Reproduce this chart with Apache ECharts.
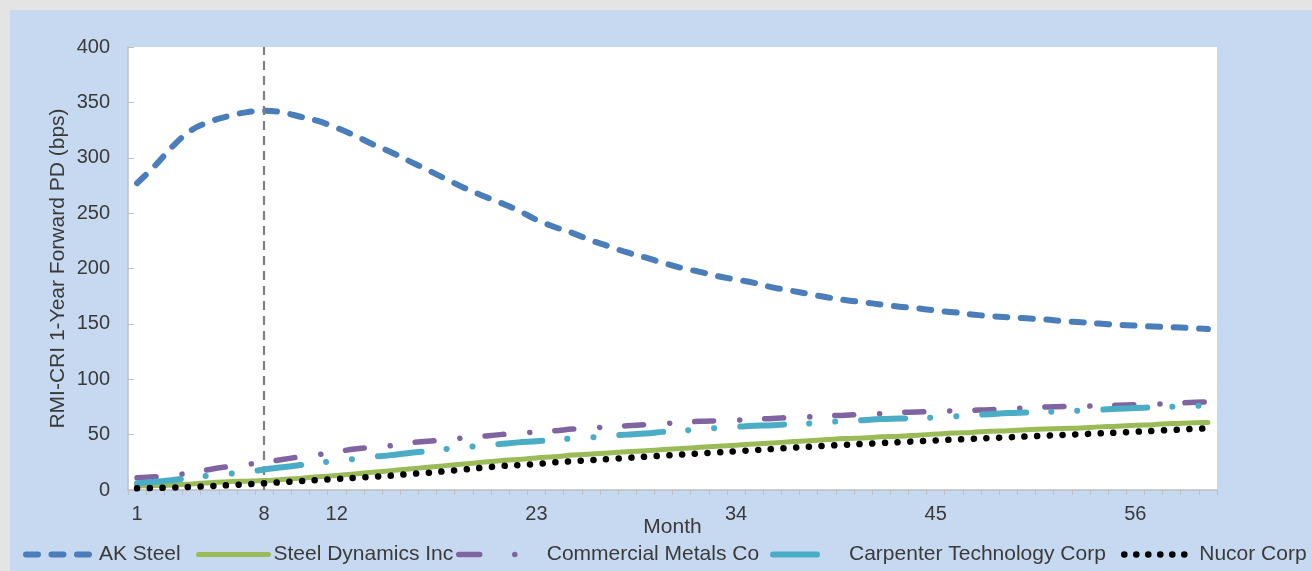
<!DOCTYPE html>
<html><head><meta charset="utf-8">
<script src="https://cdn.jsdelivr.net/npm/echarts@6/dist/echarts.min.js"></script>
<style>
html,body{margin:0;padding:0;background:#e4e4e4;width:1312px;height:571px;overflow:hidden}
#c{position:absolute;left:10px;top:10px;width:1302px;height:561px;background:#c6d9f1}
</style></head><body><div id="c"></div>
<script>
const months = [1,2,3,4,5,6,7,8,9,10,11,12,13,14,15,16,17,18,19,20,21,22,23,24,25,26,27,28,29,30,31,32,33,34,35,36,37,38,39,40,41,42,43,44,45,46,47,48,49,50,51,52,53,54,55,56,57,58,59,60];
const tickLabels = ['1','8','12','23','34','45','56'];
const markMonth = '8';
const akSteel = [277,293,311,325,332.5,337.5,341,342.5,341,337,333,327,320,312,305,297,289,281,273,266,259.5,252.5,244,237.5,232,225.5,220,214.5,210,205,200.5,197,193,190,187,183,180,177,174,171.5,169.5,167.5,165.5,164,162,160.5,158.5,157,156,155,154,152.5,151.5,150.3,149.2,148.4,147.6,147,146.2,145.3];
const steelDynamics = [3.5,4,4.5,5.5,6.5,7.5,8,8.5,9.5,10.5,12,13,14.5,16,17.5,19,20.5,22,23.5,25,26.5,27.5,29,30,31.5,32.5,33.5,34.5,35.5,36.5,37.5,38.5,39.5,40.5,41.5,42.5,43.5,44.5,45.5,46.5,47,48,48.5,49.5,50.5,51.5,52,53,53.5,54.5,55,55.5,56,57,57.5,58.5,59,60,60.5,61];
const commercialMetals = [11,12,13.5,15.5,18.5,21,23,25,27.5,30,32,34.5,37,38.5,40,42.5,44,45.5,47,48.5,50,51,52.5,53.5,55,56,57,58,59,60,61,62,62.5,63,64,64.5,65.5,66,67,67.5,68.5,69,70,70.5,71,71.5,72,72.5,73.5,74,75,75.3,75.6,76,76.5,77,77.5,78,79,79.5];
const carpenter = [6,7.5,9,11.5,13,14.5,16,18.5,20.5,22.5,24.5,26.5,28,30,31.5,33.5,35,37,38.5,40,41.5,43,44,45.5,46.5,47.5,49,50,51,52.5,53.5,55,56,57,58,58.5,59.5,60,61.5,62,63,64,64.5,65,65.5,66.5,67.5,68.5,69.5,70,70.5,71,71.8,72.5,73.3,74,74.6,75.2,75.8,76.3];
const nucor = [1.5,1.8,2.2,2.8,3.5,4.3,5.2,6,7,8,9,10,11,12,13,14.5,15.5,17,18.5,20,21.5,22.5,23.5,25,26,27,28,29,30,31,32,33,34,35,36,37,38,39,40,40.8,41.6,42.4,43.2,44,44.8,45.5,46.2,46.9,47.6,48.3,49,49.7,50.4,51.1,51.8,52.6,53.4,54.2,55,55.7];
const names = ['AK Steel','Steel Dynamics Inc','Commercial Metals Co','Carpenter Technology Corp','Nucor Corp'];

const FONT = "'Liberation Sans', Arial, sans-serif";
const TXT = '#3a3a3a';
const styles = [
  {color:'#4a7ebb', width:6, type:[12,13.5], cap:'round'},
  {color:'#9bbb59', width:5, type:'solid', cap:'round'},
  {color:'#8064a2', width:5.5, type:[19,26,0.1,25], cap:'round'},
  {color:'#4bacc6', width:6, type:[44,25,0.1,26,0.1,26], cap:'round'},
  {color:'#000000', width:6.5, type:[0.1,12.6], cap:'round'}
];
const legendStyles = [
  {left:13, w:68, type:[12,13.5]},
  {left:186, w:70, type:'solid'},
  {left:446, w:83, type:[21,35,0.1,100]},
  {left:760, w:71, type:[44,100]},
  {left:1111, w:70, type:[0.1,11.9]}
];
const seriesData = [akSteel, steelDynamics, commercialMetals, carpenter, nucor];

const chart = echarts.init(document.getElementById('c'), null, {renderer:'canvas'});
const series = names.map((n,i)=>{
  const s = {
    name:n, type:'line', data:seriesData[i], smooth:0.4, symbol:'none', showSymbol:false,
    lineStyle:{color:styles[i].color, width:styles[i].width, type:styles[i].type, cap:styles[i].cap, join:'round'},
    itemStyle:{color:styles[i].color}, animation:false, z: 2+i
  };
  if (i===0) {
    s.markLine = {silent:true, symbol:['none','none'], label:{show:false},
      lineStyle:{color:'#7f7f7f', type:[9,6], width:2.2},
      data:[{xAxis:markMonth}], animation:false};
  }
  return s;
});
const legends = names.map((n,i)=>({
  left:legendStyles[i].left, top:534, padding:0, itemWidth:legendStyles[i].w, itemHeight:14,
  selectedMode:false,
  textStyle:{fontFamily:FONT, fontSize:21, color:TXT},
  data:[{name:n,
    itemStyle:{opacity:0, borderWidth:0},
    lineStyle:{color:styles[i].color, width:styles[i].width, type:legendStyles[i].type, cap:'round', opacity:1}}]
}));

chart.setOption({
  animation:false,
  backgroundColor:'#c6d9f1',
  grid:{left:118, right:95, top:37, bottom:81, show:true, backgroundColor:'#ffffff', borderWidth:0},
  legend:legends,
  xAxis:{
    type:'category', data:months.map(String), boundaryGap:true,
    name:'Month', nameLocation:'middle', nameGap:27, nameMoveOverlap:false,
    nameTextStyle:{fontFamily:FONT, fontSize:21, color:TXT},
    axisLine:{lineStyle:{color:'#bfbfbf', width:1.5}},
    axisTick:{show:true, interval:0, length:5, lineStyle:{color:'#bfbfbf'}},
    axisLabel:{interval:(idx,v)=>tickLabels.indexOf(v)>=0, fontFamily:FONT, fontSize:20, color:TXT, margin:14},
    splitLine:{show:false}
  },
  yAxis:{
    type:'value', min:0, max:400, interval:50,
    name:'RMI-CRI 1-Year Forward PD (bps)', nameLocation:'middle', nameGap:59, nameMoveOverlap:false,
    nameTextStyle:{fontFamily:FONT, fontSize:21, color:TXT},
    axisLine:{show:true, lineStyle:{color:'#bfbfbf', width:1.5}},
    axisTick:{show:true, inside:true, length:6, lineStyle:{color:'#bfbfbf'}},
    axisLabel:{fontFamily:FONT, fontSize:20, color:TXT, margin:18},
    splitLine:{show:false}
  },
  series:series
});
</script></body></html>
